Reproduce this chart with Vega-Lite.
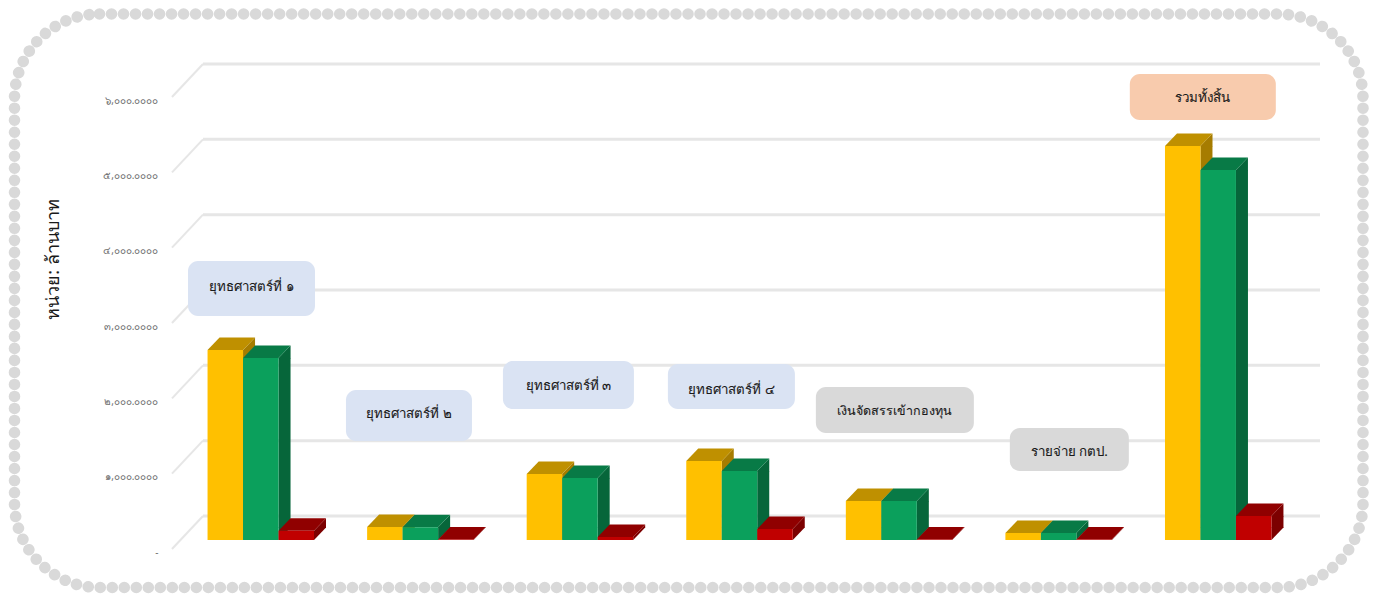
{"$schema":"https://vega.github.io/schema/vega-lite/v6.json","width":1117,"height":452,"padding":{"left":172,"top":97,"right":89,"bottom":45},"autosize":{"type":"none"},"background":"white","config":{"view":{"stroke":null},"font":"Noto Sans"},
"datasets":{"bars":[
{"group":"ยุทธศาสตร์ที่ ๑","series":"A","value":2522000},{"group":"ยุทธศาสตร์ที่ ๑","series":"B","value":2416000},{"group":"ยุทธศาสตร์ที่ ๑","series":"C","value":122000},
{"group":"ยุทธศาสตร์ที่ ๒","series":"A","value":173000},{"group":"ยุทธศาสตร์ที่ ๒","series":"B","value":170000},{"group":"ยุทธศาสตร์ที่ ๒","series":"C","value":5000},
{"group":"ยุทธศาสตร์ที่ ๓","series":"A","value":876000},{"group":"ยุทธศาสตร์ที่ ๓","series":"B","value":823000},{"group":"ยุทธศาสตร์ที่ ๓","series":"C","value":40000},
{"group":"ยุทธศาสตร์ที่ ๔","series":"A","value":1049000},{"group":"ยุทธศาสตร์ที่ ๔","series":"B","value":916000},{"group":"ยุทธศาสตร์ที่ ๔","series":"C","value":146000},
{"group":"เงินจัดสรรเข้ากองทุน","series":"A","value":518000},{"group":"เงินจัดสรรเข้ากองทุน","series":"B","value":518000},{"group":"เงินจัดสรรเข้ากองทุน","series":"C","value":5000},
{"group":"รายจ่าย กตป.","series":"A","value":93000},{"group":"รายจ่าย กตป.","series":"B","value":93000},{"group":"รายจ่าย กตป.","series":"C","value":5000},
{"group":"รวมทั้งสิ้น","series":"A","value":5230000},{"group":"รวมทั้งสิ้น","series":"B","value":4912000},{"group":"รวมทั้งสิ้น","series":"C","value":319000}],
"ticks":[{"value":0},{"value":1000000},{"value":2000000},{"value":3000000},{"value":4000000},{"value":5000000},{"value":6000000}]},
"encoding":{"x":{"field":"group","type":"nominal","axis":null,"sort":null,"scale":{"type":"band","paddingInner":0,"paddingOuter":0,"range":[9,1126],"domain":["ยุทธศาสตร์ที่ ๑","ยุทธศาสตร์ที่ ๒","ยุทธศาสตร์ที่ ๓","ยุทธศาสตร์ที่ ๔","เงินจัดสรรเข้ากองทุน","รายจ่าย กตป.","รวมทั้งสิ้น"]}}},
"layer":[
{"data":{"values":[{"frame":1}]},"mark":{"type":"rect","fill":null,"stroke":"#D9D9D9","strokeWidth":11.6,"strokeCap":"round","strokeDash":[0.01,12],"cornerRadius":85,"clip":false},"encoding":{"x":{"value":-157.5},"x2":{"value":1191},"y":{"value":-83},"y2":{"value":490.5}}},
{"data":{"name":"ticks"},"mark":{"type":"rule","color":"#E6E6E6","strokeWidth":3,"yOffset":-33},"encoding":{"x":{"value":31},"x2":{"value":1148},"y":{"field":"value","type":"quantitative","scale":{"domain":[0,6000000],"range":[452,0]},"axis":{"domain":false,"ticks":false,"grid":false,"values":[0,1000000,2000000,3000000,4000000,5000000,6000000],"labelExpr":"datum.value==0?'-\u2003':['','๑','๒','๓','๔','๕','๖'][datum.value/1000000]+',๐๐๐.๐๐๐๐'","labelColor":"#707070","labelFontSize":10,"labelPadding":14,"labelOffset":3,"title":"หน่วย: ล้านบาท","titleFontSize":18,"titleFontWeight":"normal","titleColor":"#1A1A1A","titleX":-110,"titleY":162,"titleAngle":-90}}}},
{"data":{"name":"ticks"},"mark":{"type":"rule","color":"#E6E6E6","strokeWidth":2,"y2Offset":-33},"encoding":{"x":{"value":0},"x2":{"value":31},"y":{"field":"value","type":"quantitative"},"y2":{"field":"value"}}},
{"data":{"name":"bars"},"transform":[{"filter":"datum.value>=160000 && datum.series=='A'"}],"mark":{"type":"bar","width":12,"xOffset":-11.75,"yOffset":-9,"y2Offset":-21.5,"color":"#A67C00"},"encoding":{"y":{"field":"value","type":"quantitative"},"y2":{"datum":0}}},
{"data":{"name":"bars"},"transform":[{"filter":"datum.value>=160000 && datum.series=='B'"}],"mark":{"type":"bar","width":12,"xOffset":23.75,"yOffset":-9,"y2Offset":-21.5,"color":"#06663A"},"encoding":{"y":{"field":"value","type":"quantitative"},"y2":{"datum":0}}},
{"data":{"name":"bars"},"transform":[{"filter":"datum.value>=160000 && datum.series=='C'"}],"mark":{"type":"bar","width":12,"xOffset":59.25,"yOffset":-9,"y2Offset":-21.5,"color":"#7C0000"},"encoding":{"y":{"field":"value","type":"quantitative"},"y2":{"datum":0}}},
{"data":{"name":"bars"},"transform":[{"filter":"datum.value>=160000"}],"mark":{"type":"point","filled":true,"opacity":1,"size":4,"strokeWidth":0,"yOffset":-9,"shape":"M17.75 0L29.75 -12.5L29.75 .5L17.75 .5Z"},"encoding":{"xOffset":{"field":"series","type":"nominal","scale":{"paddingInner":0,"paddingOuter":0.748}},"y":{"field":"value","type":"quantitative"},"color":{"field":"series","type":"nominal","legend":null,"scale":{"domain":["A","B","C"],"range":["#A67C00","#06663A","#7C0000"]}}}},
{"data":{"name":"bars"},"transform":[{"filter":"datum.value>=160000"}],"mark":{"type":"point","filled":true,"opacity":1,"size":4,"strokeWidth":0,"yOffset":-9,"shape":"M17.75 0L29.75 -12.5L29.75 -13L17.75 -13Z"},"encoding":{"xOffset":{"field":"series","type":"nominal"},"y":{"datum":0},"color":{"field":"series","type":"nominal","legend":null,"scale":{"domain":["A","B","C"],"range":["#A67C00","#06663A","#7C0000"]}}}},
{"data":{"name":"bars"},"transform":[{"filter":"datum.value<160000"}],"mark":{"type":"point","filled":true,"opacity":1,"size":4,"strokeWidth":0,"yOffset":-9},"encoding":{"xOffset":{"field":"series","type":"nominal"},"y":{"field":"value","type":"quantitative"},"color":{"field":"series","type":"nominal","legend":null,"scale":{"domain":["A","B","C"],"range":["#A67C00","#06663A","#7C0000"]}},"shape":{"field":"value","type":"nominal","legend":null,"scale":{"domain":[146000,122000,93000,40000,5000],"range":["M17.75 0L29.75 -12.5L29.75 -1.5L17.75 11Z","M17.75 0L29.75 -12.5L29.75 -3.3L17.75 9.2Z","M17.75 0L29.75 -12.5L29.75 -5.5L17.75 7Z","M17.75 0L29.75 -12.5L29.75 -9.5L17.75 3Z","M17.75 0L29.75 -12.5L29.75 -12.1L17.75 .4Z"]}}}},
{"data":{"name":"bars"},"mark":{"type":"point","filled":true,"opacity":1,"size":4,"strokeWidth":0,"yOffset":-9,"shape":"M-17.75 0L17.75 0L29.75 -12.5L-5.75 -12.5Z"},"encoding":{"xOffset":{"field":"series","type":"nominal"},"y":{"field":"value","type":"quantitative"},"color":{"field":"series","type":"nominal","legend":null,"scale":{"domain":["A","B","C"],"range":["#BF9000","#087A46","#900000"]}}}},
{"data":{"name":"bars"},"mark":{"type":"bar","yOffset":-9,"y2Offset":-9},"encoding":{"xOffset":{"field":"series","type":"nominal"},"y":{"field":"value","type":"quantitative"},"color":{"field":"series","type":"nominal","legend":null,"scale":{"domain":["A","B","C"],"range":["#FFC000","#0BA05C","#C00000"]}}}},
{"data":{"values":[{"group":"ยุทธศาสตร์ที่ ๑","top":3823000,"bottom":3093000,"mid":3478000}]},"layer":[{"mark":{"type":"bar","width":127,"xOffset":-9.3,"cornerRadius":10,"color":"#DAE3F3"},"encoding":{"y":{"field":"top","type":"quantitative"},"y2":{"field":"bottom"}}},{"mark":{"type":"text","xOffset":-9.3,"fontSize":13.3,"color":"#1A1A1A","stroke":"#1A1A1A","strokeWidth":0.1},"encoding":{"y":{"field":"mid","type":"quantitative"},"text":{"field":"group"}}}]},
{"data":{"values":[{"group":"ยุทธศาสตร์ที่ ๒","top":2111000,"bottom":1434000,"mid":1792000}]},"layer":[{"mark":{"type":"bar","width":126,"xOffset":-11.4,"cornerRadius":10,"color":"#DAE3F3"},"encoding":{"y":{"field":"top","type":"quantitative"},"y2":{"field":"bottom"}}},{"mark":{"type":"text","xOffset":-11.4,"fontSize":13.3,"color":"#1A1A1A","stroke":"#1A1A1A","strokeWidth":0.1},"encoding":{"y":{"field":"mid","type":"quantitative"},"text":{"field":"group"}}}]},
{"data":{"values":[{"group":"ยุทธศาสตร์ที่ ๓","top":2496000,"bottom":1858000,"mid":2164000}]},"layer":[{"mark":{"type":"bar","width":131,"xOffset":-11.5,"cornerRadius":10,"color":"#DAE3F3"},"encoding":{"y":{"field":"top","type":"quantitative"},"y2":{"field":"bottom"}}},{"mark":{"type":"text","xOffset":-11.5,"fontSize":13.3,"color":"#1A1A1A","stroke":"#1A1A1A","strokeWidth":0.1},"encoding":{"y":{"field":"mid","type":"quantitative"},"text":{"field":"group"}}}]},
{"data":{"values":[{"group":"ยุทธศาสตร์ที่ ๔","top":2456000,"bottom":1858000,"mid":2111000}]},"layer":[{"mark":{"type":"bar","width":127,"xOffset":-8.1,"cornerRadius":10,"color":"#DAE3F3"},"encoding":{"y":{"field":"top","type":"quantitative"},"y2":{"field":"bottom"}}},{"mark":{"type":"text","xOffset":-8.1,"fontSize":13.3,"color":"#1A1A1A","stroke":"#1A1A1A","strokeWidth":0.1},"encoding":{"y":{"field":"mid","type":"quantitative"},"text":{"field":"group"}}}]},
{"data":{"values":[{"group":"เงินจัดสรรเข้ากองทุน","top":2150000,"bottom":1540000,"mid":1832000}]},"layer":[{"mark":{"type":"bar","width":158,"xOffset":-4.2,"cornerRadius":10,"color":"#D9D9D9"},"encoding":{"y":{"field":"top","type":"quantitative"},"y2":{"field":"bottom"}}},{"mark":{"type":"text","xOffset":-4.2,"fontSize":12.5,"color":"#1A1A1A","stroke":"#1A1A1A","strokeWidth":0.1},"encoding":{"y":{"field":"mid","type":"quantitative"},"text":{"field":"group"}}}]},
{"data":{"values":[{"group":"รายจ่าย กตป.","top":1606000,"bottom":1035000,"mid":1281000}]},"layer":[{"mark":{"type":"bar","width":119,"xOffset":10.7,"cornerRadius":10,"color":"#D9D9D9"},"encoding":{"y":{"field":"top","type":"quantitative"},"y2":{"field":"bottom"}}},{"mark":{"type":"text","xOffset":10.7,"fontSize":13.3,"color":"#1A1A1A","stroke":"#1A1A1A","strokeWidth":0.1},"encoding":{"y":{"field":"mid","type":"quantitative"},"text":{"field":"group"}}}]},
{"data":{"values":[{"group":"รวมทั้งสิ้น","top":6305000,"bottom":5695000,"mid":5987000}]},"layer":[{"mark":{"type":"bar","width":146,"xOffset":-15.4,"cornerRadius":10,"color":"#F8CBAD"},"encoding":{"y":{"field":"top","type":"quantitative"},"y2":{"field":"bottom"}}},{"mark":{"type":"text","xOffset":-15.4,"fontSize":13.3,"color":"#1A1A1A","stroke":"#1A1A1A","strokeWidth":0.1},"encoding":{"y":{"field":"mid","type":"quantitative"},"text":{"field":"group"}}}]}
],
"resolve":{"scale":{"color":"independent"}}}
